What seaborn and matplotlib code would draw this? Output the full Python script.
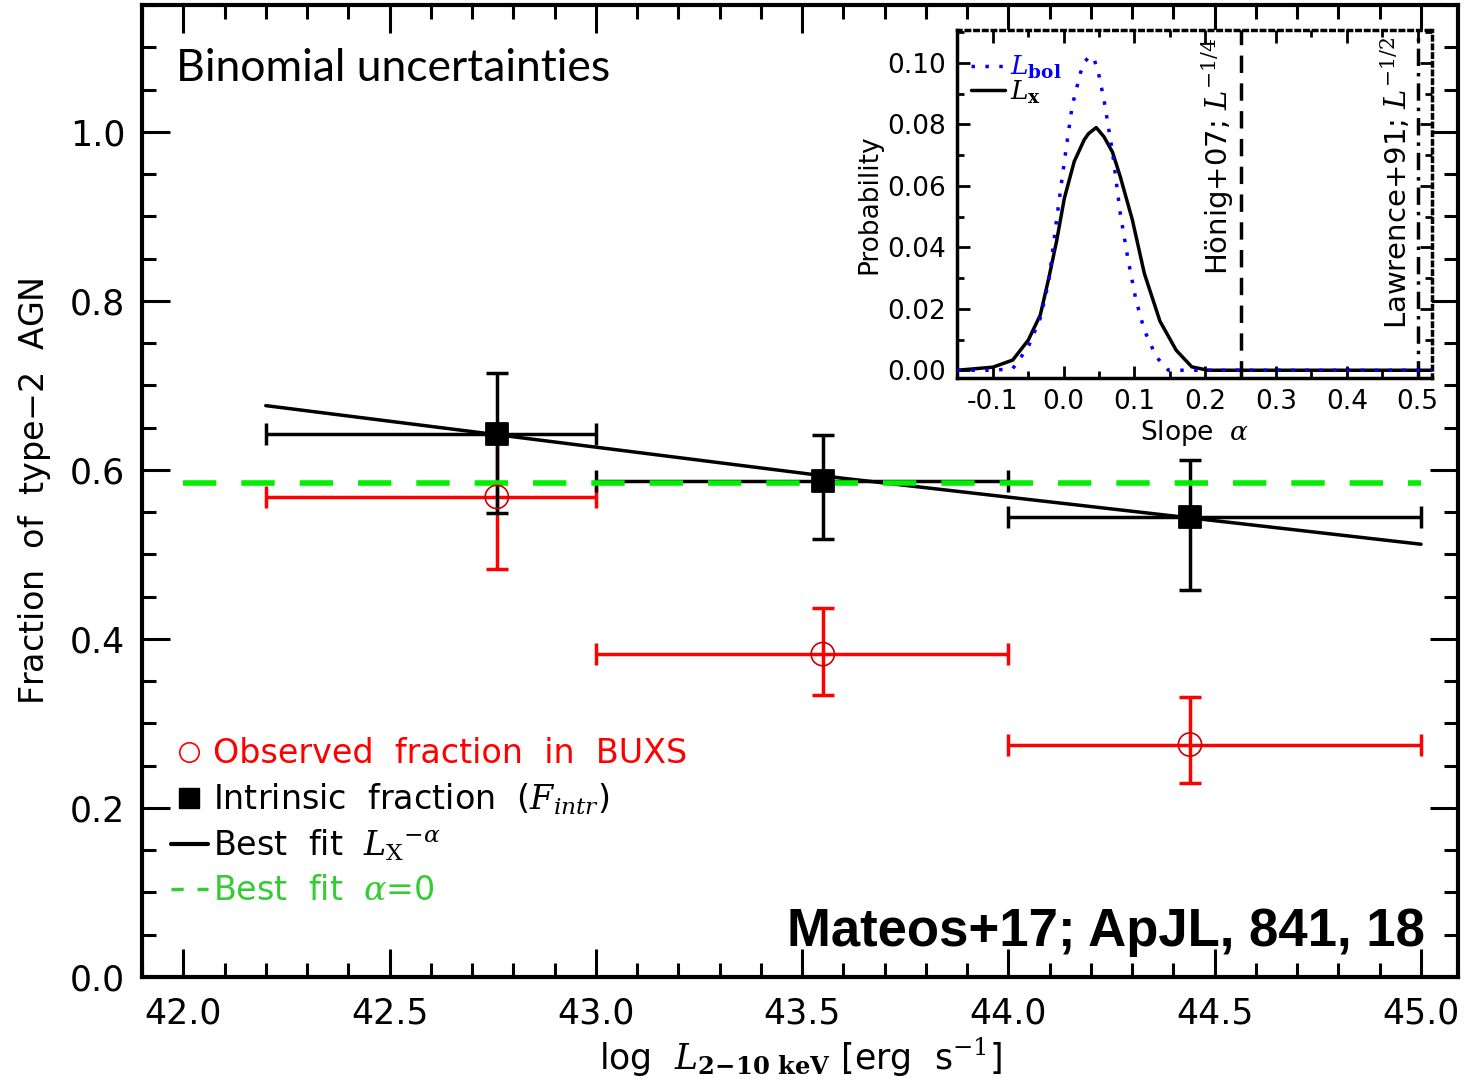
import numpy as np
import pandas as pd
import matplotlib
matplotlib.use("Agg")
import matplotlib.pyplot as plt
import seaborn as sns
from matplotlib.lines import Line2D
from matplotlib.ticker import MultipleLocator, FormatStrFormatter

sns.set_theme(style="ticks")
plt.rcParams['font.family'] = ['DejaVu Sans']
plt.rcParams['mathtext.fontset'] = 'dejavuserif'
for k in ['text.color', 'axes.labelcolor', 'xtick.color', 'ytick.color', 'axes.edgecolor']:
    plt.rcParams[k] = 'black'

# ---------------- data ----------------
bin_lo = [42.2, 43.0, 44.0]
bin_hi = [43.0, 44.0, 45.0]
x_pts = [42.76, 43.55, 44.44]

intr_y = [0.643, 0.587, 0.544]
intr_hi = [0.715, 0.641, 0.612]
intr_lo = [0.549, 0.518, 0.458]

obs_y = [0.568, 0.382, 0.275]
obs_hi = [0.650, 0.437, 0.331]
obs_lo = [0.483, 0.334, 0.230]

fit_x = [42.2, 43.6, 45.0]
fit_y = [0.676, 0.590, 0.512]

flat_x = [42.0, 45.0]
flat_y = [0.585, 0.585]

alpha_lx = [-0.15, -0.10, -0.072, -0.05, -0.033, -0.021, -0.01, 0.001, 0.015, 0.029, 0.035,
            0.046, 0.057, 0.069, 0.08, 0.097, 0.114, 0.136, 0.159, 0.181, 0.204, 0.25, 0.52]
prob_lx = [0.0, 0.001, 0.0033, 0.0098, 0.018, 0.030, 0.042, 0.056, 0.068, 0.075, 0.077,
           0.079, 0.076, 0.071, 0.063, 0.049, 0.0315, 0.016, 0.0065, 0.0011, 0.0, 0.0, 0.0]

alpha_lbol = [-0.15, -0.10, -0.072, -0.05, -0.033, -0.021, -0.01, 0.001, 0.012, 0.024, 0.030,
              0.036, 0.042, 0.049, 0.057, 0.069, 0.080, 0.091, 0.102, 0.114, 0.131, 0.148,
              0.25, 0.52]
prob_lbol = [0.0, 0.0, 0.0005, 0.0076, 0.017, 0.029, 0.049, 0.068, 0.086, 0.097, 0.1005,
             0.102, 0.102, 0.097, 0.088, 0.071, 0.051, 0.036, 0.023, 0.013, 0.0043, 0.0,
             0.0, 0.0]

ref_slopes = [0.25, 0.5]

# ---------------- figure ----------------
fig = plt.figure(figsize=(14.64, 10.9), dpi=100)
ax = fig.add_axes([0.097, 0.1037, 0.899, 0.8917])

sns.lineplot(x=fit_x, y=fit_y, ax=ax, color='black', lw=2.5, sort=False, zorder=3)
sns.lineplot(x=flat_x, y=flat_y, ax=ax, color='#00ee00', lw=4, sort=False, zorder=4)
ax.lines[-1].set_dashes([6, 4.5])

xe_lo = np.array(x_pts) - np.array(bin_lo)
xe_hi = np.array(bin_hi) - np.array(x_pts)
ax.errorbar(x_pts, obs_y, xerr=[xe_lo, xe_hi],
            yerr=[np.array(obs_y) - np.array(obs_lo), np.array(obs_hi) - np.array(obs_y)],
            fmt='none', ecolor='red', elinewidth=2.5, capsize=8, capthick=2.5, zorder=2)
sns.scatterplot(x=x_pts, y=obs_y, ax=ax, marker='o', s=280, facecolor='none',
                edgecolor='#cc0000', linewidth=1.2, zorder=5)

ax.errorbar(x_pts, intr_y, xerr=[xe_lo, xe_hi],
            yerr=[np.array(intr_y) - np.array(intr_lo), np.array(intr_hi) - np.array(intr_y)],
            fmt='none', ecolor='black', elinewidth=2.5, capsize=8, capthick=2.5, zorder=3)
sns.scatterplot(x=x_pts, y=intr_y, ax=ax, marker='s', s=260, color='black',
                edgecolor='black', zorder=6)

ax.set_xlim(41.9, 45.09)
ax.set_ylim(0.0, 1.15)
ax.xaxis.set_major_locator(MultipleLocator(0.5))
ax.xaxis.set_minor_locator(MultipleLocator(0.1))
ax.yaxis.set_major_locator(MultipleLocator(0.2))
ax.yaxis.set_minor_locator(MultipleLocator(0.05))
ax.xaxis.set_major_formatter(FormatStrFormatter('%.1f'))
ax.yaxis.set_major_formatter(FormatStrFormatter('%.1f'))
ax.tick_params(which='both', direction='in', top=True, right=True, width=2.2, color='black')
ax.tick_params(which='major', length=20, labelsize=25, pad=14)
ax.tick_params(which='minor', length=10)
ax.tick_params(axis='y', which='major', pad=12)
for sp in ax.spines.values():
    sp.set_linewidth(3)
    sp.set_color('black')

ax.set_xlabel(r'log  $L_{\mathbf{2\!-\!10\ keV}}$ [erg  s$^{-1}$]', fontsize=25, labelpad=4)
ax.set_ylabel('Fraction  of  type$-$2  AGN', fontsize=24, labelpad=12)

ax.text(0.026, 0.935, 'Binomial uncertainties', transform=ax.transAxes,
        fontsize=32, family='Lato', ha='left', va='center')
ax.text(0.975, 0.046, 'Mateos+17; ApJL, 841, 18', transform=ax.transAxes,
        fontsize=38, family='Liberation Sans', weight='bold', ha='right', va='center')

handles = [
    Line2D([], [], ls='none', marker='o', markersize=14, markerfacecolor='none',
           markeredgecolor='red', markeredgewidth=1.2),
    Line2D([], [], ls='none', marker='s', markersize=14, color='black'),
    Line2D([], [], ls='-', lw=3, color='black'),
    Line2D([], [], ls=(0, (3.5, 4)), lw=2.5, color='#33cc33'),
]
labels = ['Observed  fraction  in  BUXS',
          r'Intrinsic  fraction  ($F_{intr}$)',
          r'Best  fit  $L_{\mathrm{X}}$$^{-\alpha}$',
          r'Best  fit  $\alpha$=0']
leg = ax.legend(handles, labels, loc='lower left', bbox_to_anchor=(0.012, 0.058),
                frameon=False, fontsize=24, handlelength=1.1, handletextpad=0.15,
                labelspacing=0.33, borderaxespad=0)
for t, c in zip(leg.get_texts(), ['red', 'black', 'black', '#33cc33']):
    t.set_color(c)

# ---------------- inset ----------------
ins = fig.add_axes([0.654, 0.653, 0.324, 0.3193])
df_lx = pd.DataFrame({'alpha': alpha_lx, 'prob': prob_lx})
df_lb = pd.DataFrame({'alpha': alpha_lbol, 'prob': prob_lbol})
sns.lineplot(data=df_lx, x='alpha', y='prob', ax=ins, color='black', lw=2.5, zorder=3)
sns.lineplot(data=df_lb, x='alpha', y='prob', ax=ins, color='blue', lw=2.5, zorder=4)
ins.lines[-1].set_linestyle((0, (1, 3)))
ins.axvline(ref_slopes[0], color='black', lw=2.5, ls=(0, (5, 3)))
ins.axvline(ref_slopes[1], color='black', lw=2.5, ls=(0, (5, 2, 1, 2)))
ins.set_xlim(-0.15, 0.52)
ins.set_ylim(-0.0026, 0.1107)
ins.xaxis.set_major_locator(MultipleLocator(0.1))
ins.xaxis.set_minor_locator(MultipleLocator(0.05))
ins.yaxis.set_major_locator(MultipleLocator(0.02))
ins.yaxis.set_minor_locator(MultipleLocator(0.01))
ins.xaxis.set_major_formatter(FormatStrFormatter('%.1f'))
ins.yaxis.set_major_formatter(FormatStrFormatter('%.2f'))
ins.tick_params(which='both', direction='in', top=True, right=True, width=2, color='black')
ins.tick_params(which='major', length=9, labelsize=19, pad=8)
ins.tick_params(which='minor', length=5)
for name, sp in ins.spines.items():
    sp.set_linewidth(2.5)
    sp.set_color('black')
ins.spines['top'].set_linestyle((0, (1, 1.5)))
ins.spines['right'].set_linestyle((0, (1, 1.5)))
ins.set_xlabel(r'Slope  $\alpha$', fontsize=19, labelpad=2)
ins.set_ylabel('Probability', fontsize=19, labelpad=4)
ins.text(0.243, 0.1085, r'Hönig+07; $L^{-1/4}$', rotation=90, ha='right', va='top',
         fontsize=21, color='black')
ins.text(0.493, 0.1085, r'Lawrence+91; $L^{-1/2}$', rotation=90, ha='right', va='top',
         fontsize=21, color='black')
ih = [Line2D([], [], color='blue', lw=2.5, ls=(0, (1, 3))),
      Line2D([], [], color='black', lw=2.5)]
il = [r'$L_{\mathbf{bol}}$', r'$L_{\mathbf{x}}$']
ileg = ins.legend(ih, il, loc='upper left', bbox_to_anchor=(0.0, 0.97), frameon=False,
                  fontsize=19, handlelength=1.3, handletextpad=0.2, labelspacing=-0.1,
                  borderaxespad=0.1)
ileg.get_texts()[0].set_color('blue')

fig.savefig('out.png', dpi=100)
